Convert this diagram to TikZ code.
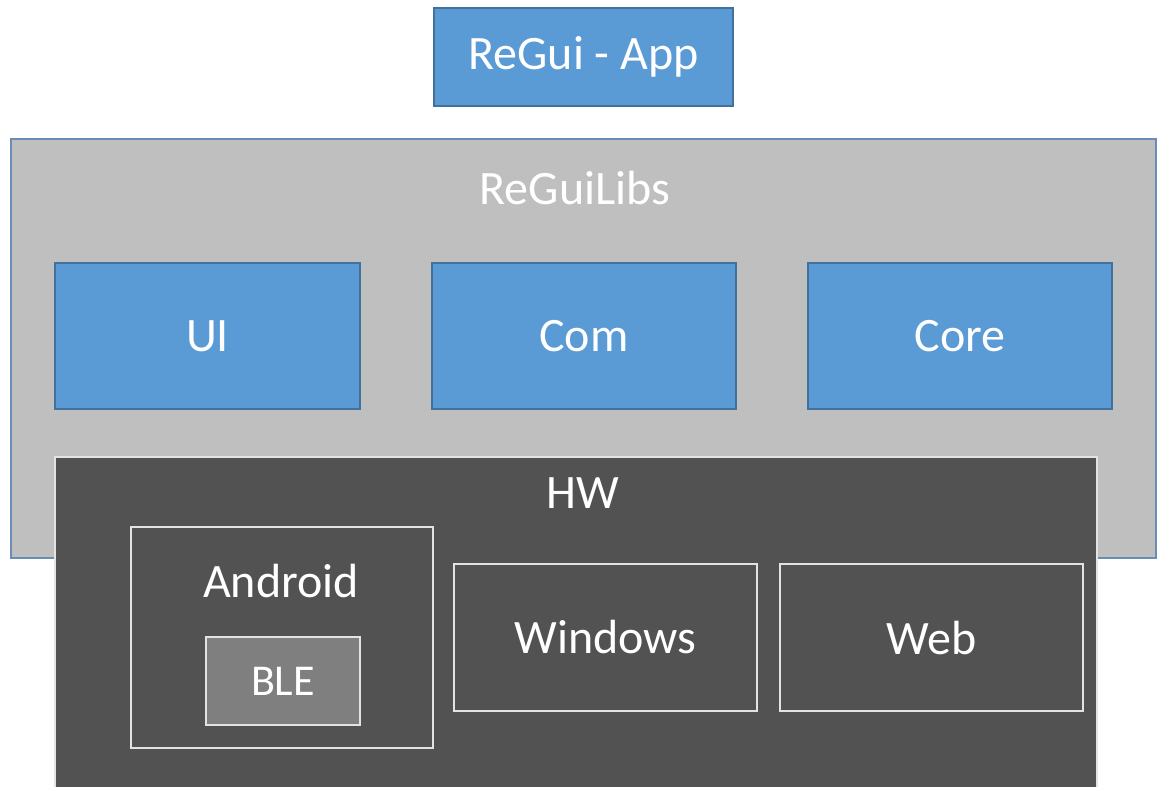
\documentclass[tikz,border=0pt]{standalone}
\usepackage{fontspec}
\setmainfont{Carlito}
\definecolor{blueF}{HTML}{5B9BD5}
\definecolor{blueD}{HTML}{41719C}
\definecolor{libsF}{HTML}{BFBFBF}
\definecolor{libsD}{HTML}{6A8DB3}
\definecolor{hwF}{HTML}{525252}
\definecolor{lineW}{HTML}{E3E3E3}
\definecolor{bleF}{HTML}{7F7F7F}
\begin{document}
\begin{tikzpicture}[x=1pt,y=-1pt,
  box/.style={rectangle, inner sep=0pt, line width=1.5pt, text=white, font=\fontsize{48}{56}\selectfont},
  bluebox/.style={box, fill=blueF, draw=blueD},
  libsbox/.style={box, fill=libsF, draw=libsD},
  hwbox/.style={box, fill=hwF, draw=lineW},
  platbox/.style={box, draw=lineW},
  blebox/.style={box, fill=bleF, draw=lineW, font=\fontsize{44}{52}\selectfont},
  title/.style={inner sep=0pt, text=white, font=\fontsize{48}{56}\selectfont}]
\useasboundingbox (0,0) rectangle (1160,787);
\fill[white] (0,0) rectangle (1160,787);
\node[bluebox, minimum width=299pt, minimum height=98pt] (app) at (583.5,57) {\raisebox{-2pt}{ReGui - App}};
\node[libsbox, minimum width=1145pt, minimum height=419pt] (libs) at (583.5,348.5) {};
\node[title] (libst) at (575,188) {ReGuiLibs};
\node[bluebox, minimum width=305pt, minimum height=146pt] (ui) at (207.5,336) {UI};
\node[bluebox, minimum width=304pt, minimum height=146pt] (com) at (584,336) {Com};
\node[bluebox, minimum width=304pt, minimum height=146pt] (core) at (960,336) {Core};
\node[hwbox, minimum width=1042pt, minimum height=340pt] (hw) at (576,627) {};
\node[title] (hwt) at (583,493) {HW};
\node[platbox, minimum width=302pt, minimum height=221pt] (android) at (282,637.5) {};
\node[title] (androidt) at (281,581) {Android};
\node[blebox, minimum width=154pt, minimum height=88pt] (ble) at (283,681) {BLE};
\node[platbox, minimum width=303pt, minimum height=147pt] (windows) at (605.5,637.5) {Windows};
\node[platbox, minimum width=303pt, minimum height=147pt] (web) at (931.5,637.5) {Web};
\end{tikzpicture}
\end{document}
